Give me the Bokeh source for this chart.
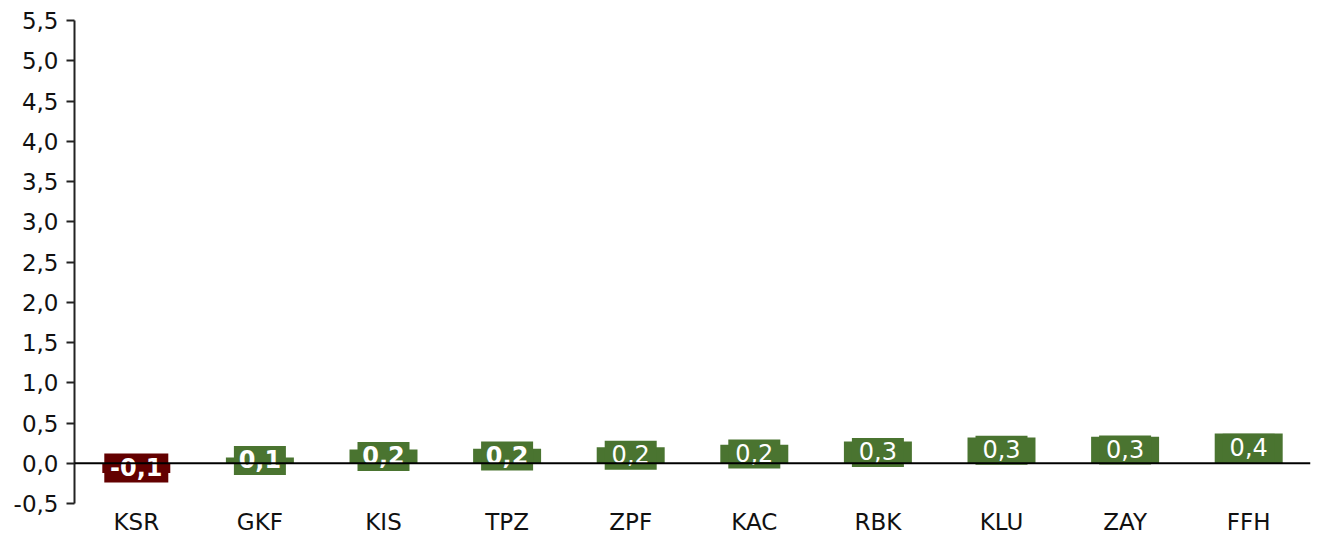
from bokeh.plotting import figure
from bokeh.models import (ColumnDataSource, Range1d, FactorRange, Span,
                          SingleIntervalTicker, CustomJSTickFormatter)
from bokeh.core.properties import value
from bokeh.embed import file_html
from bokeh.resources import INLINE

# ---- data ----
categories = ["KSR", "GKF", "KIS", "TPZ", "ZPF", "KAC", "RBK", "KLU", "ZAY", "FFH"]
values = [-0.12, 0.07, 0.17, 0.18, 0.20, 0.23, 0.27, 0.32, 0.33, 0.37]

# ---- styles ----
POS_COLOR = "#4a7430"
NEG_COLOR = "#630000"
bold_labels = [True, True, True, True, False, False, False, False, False, False]
FONT = "DejaVu Sans"

colors = [POS_COLOR if v >= 0 else NEG_COLOR for v in values]
labels = [("%.1f" % v).replace(".", ",") for v in values]
mids = [v / 2.0 for v in values]
fstyles = ["bold" if b else "normal" for b in bold_labels]
box_w = [12 * len(s) + 16 for s in labels]

src = ColumnDataSource(dict(cat=categories, val=values, color=colors,
                            label=labels, mid=mids, fstyle=fstyles, bw=box_w))

p = figure(x_range=FactorRange(*categories), y_range=Range1d(-0.5, 5.5),
           width=1318, height=538, output_backend="svg", toolbar_location=None,
           min_border_left=74, min_border_right=8, min_border_top=20,
           min_border_bottom=35)

p.vbar(x="cat", top="val", bottom=0, width=0.55, fill_color="color",
       line_color=None, source=src)

p.rect(x="cat", y="mid", width="bw", height=29, width_units="screen",
       height_units="screen", fill_color="color", line_color=None, source=src)

p.add_layout(Span(location=0, dimension="width", line_color="black",
                  line_width=2))

p.text(x="cat", y="mid", text="label", source=src,
       text_align="center", text_baseline="middle", y_offset=-1,
       text_color="white", text_font=value(FONT), text_font_size="24px",
       text_font_style="fstyle")

p.outline_line_color = None
p.grid.visible = False
p.background_fill_color = "white"

yax = p.yaxis[0]
yax.ticker = SingleIntervalTicker(interval=0.5, num_minor_ticks=0)
yax.formatter = CustomJSTickFormatter(code="return tick.toFixed(1).replace('.', ',');")
yax.axis_line_color = "#222222"
yax.axis_line_width = 2
yax.major_tick_line_color = "#222222"
yax.major_tick_line_width = 2
yax.major_tick_out = 8
yax.major_tick_in = 0
yax.minor_tick_line_color = None
yax.major_label_standoff = 8
yax.major_label_text_font = FONT
yax.major_label_text_font_size = "23px"
yax.major_label_text_color = "#111111"

xax = p.xaxis[0]
xax.axis_line_color = None
xax.major_tick_line_color = None
xax.minor_tick_line_color = None
xax.major_tick_out = 0
xax.major_tick_in = 0
xax.major_label_standoff = 5
xax.major_label_text_font = FONT
xax.major_label_text_font_size = "23px"
xax.major_label_text_color = "#111111"

open("out.html", "w").write(file_html(p, INLINE))
